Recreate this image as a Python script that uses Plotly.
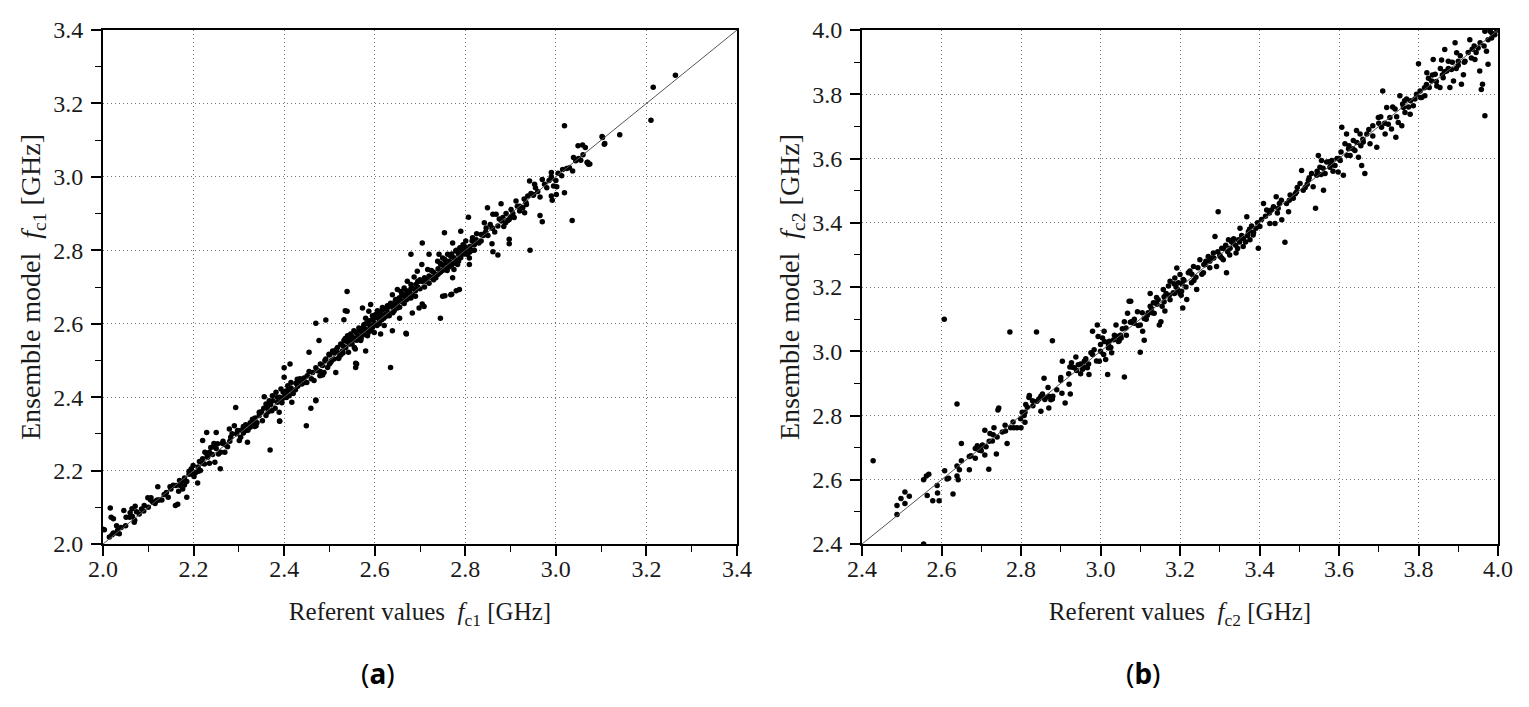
import plotly.graph_objects as go

# (a) referent f_c1 vs ensemble model f_c1, GHz
a_points = [
    (2.003, 2.039), (2.018, 2.073), (2.014, 2.019), (2.023, 2.030), (2.032, 2.037), (2.036, 2.028),
    (2.016, 2.098), (2.023, 2.069), (2.046, 2.091), (2.051, 2.073), (2.059, 2.073), (2.065, 2.075),
    (2.064, 2.096), (2.071, 2.103), (2.069, 2.059), (2.074, 2.088), (2.080, 2.082), (2.091, 2.105),
    (2.099, 2.126), (2.106, 2.126), (2.110, 2.114), (2.117, 2.117), (2.121, 2.156), (2.124, 2.120),
    (2.144, 2.127), (2.148, 2.156), (2.161, 2.159), (2.165, 2.108), (2.167, 2.144), (2.169, 2.173),
    (2.172, 2.159), (2.176, 2.150), (2.180, 2.161), (2.185, 2.127), (2.190, 2.198), (2.196, 2.191),
    (2.201, 2.184), (2.199, 2.214), (2.205, 2.195), (2.209, 2.166), (2.211, 2.198), (2.213, 2.225),
    (2.220, 2.232), (2.220, 2.282), (2.224, 2.218), (2.229, 2.304), (2.231, 2.236), (2.235, 2.250),
    (2.238, 2.263), (2.242, 2.244), (2.245, 2.274), (2.247, 2.223), (2.250, 2.304), (2.253, 2.273),
    (2.259, 2.205), (2.264, 2.274), (2.269, 2.250), (2.279, 2.313), (2.282, 2.291), (2.290, 2.322),
    (2.293, 2.372), (2.297, 2.309), (2.301, 2.282), (2.304, 2.291), (2.310, 2.302), (2.315, 2.309),
    (2.319, 2.277), (2.325, 2.318), (2.330, 2.331), (2.336, 2.343), (2.338, 2.322), (2.345, 2.359),
    (2.352, 2.336), (2.356, 2.401), (2.360, 2.381), (2.363, 2.372), (2.367, 2.390), (2.369, 2.256),
    (2.373, 2.363), (2.374, 2.404), (2.382, 2.413), (2.385, 2.386), (2.389, 2.359), (2.390, 2.334),
    (2.393, 2.422), (2.395, 2.392), (2.398, 2.413), (2.400, 2.454), (2.404, 2.417), (2.405, 2.399),
    (2.408, 2.431), (2.411, 2.404), (2.413, 2.490), (2.415, 2.440), (2.417, 2.386), (2.418, 2.417),
    (2.426, 2.438), (2.429, 2.449), (2.433, 2.443), (2.439, 2.436), (2.444, 2.452), (2.449, 2.322),
    (2.451, 2.458), (2.455, 2.522), (2.459, 2.370), (2.463, 2.467), (2.466, 2.445), (2.470, 2.601),
    (2.470, 2.392), (2.474, 2.472), (2.477, 2.554), (2.479, 2.458), (2.485, 2.486), (2.488, 2.467),
    (2.492, 2.610), (2.492, 2.504), (2.496, 2.481), (2.499, 2.517), (2.503, 2.495), (2.507, 2.526),
    (2.510, 2.504), (2.514, 2.467), (2.518, 2.535), (2.521, 2.507), (2.525, 2.545), (2.529, 2.526),
    (2.532, 2.554), (2.535, 2.635), (2.536, 2.535), (2.540, 2.567), (2.542, 2.522), (2.545, 2.545),
    (2.547, 2.572), (2.551, 2.555), (2.554, 2.581), (2.557, 2.531), (2.558, 2.492), (2.558, 2.481),
    (2.562, 2.563), (2.565, 2.588), (2.569, 2.554), (2.573, 2.576), (2.576, 2.597), (2.580, 2.526),
    (2.584, 2.567), (2.588, 2.608), (2.591, 2.590), (2.595, 2.622), (2.599, 2.576), (2.602, 2.599),
    (2.606, 2.635), (2.610, 2.613), (2.613, 2.572), (2.617, 2.644), (2.621, 2.595), (2.624, 2.626),
    (2.628, 2.649), (2.632, 2.622), (2.635, 2.481), (2.639, 2.581), (2.643, 2.635),
    (3.019, 3.139), (3.036, 2.881), (2.943, 2.800), (3.141, 3.115), (3.108, 3.091), (3.103, 3.107),
    (3.049, 3.085), (3.059, 3.087), (3.039, 3.053), (3.044, 3.044), (3.030, 3.025), (3.024, 3.023),
    (3.037, 3.016), (3.069, 3.039), (3.072, 3.034), (3.013, 3.003), (3.019, 2.957), (3.001, 2.952),
    (2.990, 2.948), (2.992, 2.936), (3.002, 2.973), (2.990, 3.012), (2.990, 2.996), (2.970, 2.993),
    (2.953, 2.980), (2.942, 2.989), (2.951, 2.952), (2.938, 2.948), (2.934, 2.930), (2.927, 2.916),
    (2.931, 2.902), (2.920, 2.907), (2.912, 2.934), (2.908, 2.889), (2.901, 2.911), (2.897, 2.884),
    (2.894, 2.881), (2.889, 2.875), (2.879, 2.927), (2.883, 2.889), (2.872, 2.866), (2.868, 2.898),
    (2.861, 2.898), (2.859, 2.861), (2.849, 2.916), (2.846, 2.861), (2.838, 2.843), (2.842, 2.875),
    (2.835, 2.843), (2.824, 2.829), (2.859, 2.818), (2.861, 2.796), (2.872, 2.787), (2.897, 2.830),
    (2.897, 2.818), (2.820, 2.820), (2.816, 2.834), (2.807, 2.890), (2.801, 2.825), (2.798, 2.811),
    (2.790, 2.852), (2.788, 2.807), (2.794, 2.793), (2.801, 2.802), (2.805, 2.789), (2.809, 2.779),
    (2.809, 2.761), (2.779, 2.798), (2.772, 2.820), (2.768, 2.784), (2.761, 2.789), (2.757, 2.770),
    (2.754, 2.848), (2.754, 2.752), (2.750, 2.779), (2.746, 2.761), (2.742, 2.789), (2.739, 2.770),
    (2.765, 2.757), (2.775, 2.748), (2.783, 2.761), (2.772, 2.725), (2.787, 2.693), (2.768, 2.679),
    (2.750, 2.675), (2.735, 2.734), (2.728, 2.725), (2.720, 2.789), (2.717, 2.748), (2.713, 2.716),
    (2.705, 2.820), (2.704, 2.761), (2.698, 2.716), (2.694, 2.743), (2.691, 2.707), (2.687, 2.727),
    (2.683, 2.679), (2.680, 2.789), (2.680, 2.707), (2.676, 2.688), (2.672, 2.716), (2.669, 2.679),
    (2.665, 2.697), (2.661, 2.661), (2.658, 2.688), (2.654, 2.670), (2.650, 2.693), (2.646, 2.666),
    (2.643, 2.643), (2.639, 2.679), (2.635, 2.656), (2.705, 2.654), (2.709, 2.647), (2.745, 2.615),
    (2.698, 2.643), (2.669, 2.574), (2.683, 2.629), (2.655, 2.615), (2.539, 2.688), (2.532, 2.611),
    (2.539, 2.634), (2.628, 2.625), (2.617, 2.638), (2.610, 2.625), (2.602, 2.625), (2.587, 2.634),
    (2.591, 2.652), (2.573, 2.643), (2.580, 2.615), (2.650, 2.643),
    (3.264, 3.277), (3.215, 3.244), (3.210, 3.154), (3.102, 3.110), (3.107, 3.089), (2.965, 2.895),
    (2.970, 2.878), (2.780, 2.690), (2.770, 2.680), (2.755, 2.676), (2.400, 2.480), (2.390, 2.335),
    (2.470, 2.390), (2.560, 2.490), (2.670, 2.572), (2.160, 2.105), (2.000, 2.040),
    (2.520, 2.520), (2.530, 2.540), (2.540, 2.550), (2.550, 2.545), (2.555, 2.560), (2.560, 2.575),
    (2.565, 2.565), (2.570, 2.580), (2.575, 2.570), (2.580, 2.585), (2.585, 2.600), (2.590, 2.595),
    (2.595, 2.610), (2.600, 2.600), (2.605, 2.620), (2.610, 2.600), (2.615, 2.625), (2.620, 2.615),
    (2.625, 2.640), (2.630, 2.630), (2.635, 2.650), (2.640, 2.645), (2.645, 2.660), (2.650, 2.655),
    (2.655, 2.670), (2.660, 2.660), (2.665, 2.675), (2.670, 2.665), (2.675, 2.685), (2.680, 2.670),
    (2.685, 2.695), (2.690, 2.690), (2.695, 2.700), (2.700, 2.695), (2.705, 2.715), (2.710, 2.700),
    (2.715, 2.720), (2.720, 2.730), (2.725, 2.725), (2.730, 2.740), (2.735, 2.725), (2.740, 2.750),
    (2.745, 2.740), (2.750, 2.760), (2.755, 2.750), (2.760, 2.765), (2.765, 2.770), (2.770, 2.760),
    (2.775, 2.780), (2.780, 2.775), (2.785, 2.790), (2.790, 2.800), (2.795, 2.790), (2.800, 2.805),
    (2.805, 2.800), (2.810, 2.810), (2.815, 2.800), (2.820, 2.815), (2.830, 2.820), (2.840, 2.840),
    (2.850, 2.840), (2.860, 2.860), (2.880, 2.880), (2.890, 2.900), (2.900, 2.890), (2.920, 2.920),
    (2.930, 2.940), (2.950, 2.950), (2.960, 2.960), (2.980, 2.970), (2.990, 3.000), (3.000, 2.990),
    (3.050, 3.050), (3.060, 3.060), (3.070, 3.040), (3.075, 3.035),
    (2.470, 2.480), (2.480, 2.470), (2.490, 2.500), (2.500, 2.490), (2.510, 2.520), (2.450, 2.440),
    (2.440, 2.440), (2.430, 2.430), (2.420, 2.410), (2.410, 2.420), (2.400, 2.400), (2.390, 2.400),
    (2.380, 2.370), (2.370, 2.380), (2.360, 2.350), (2.350, 2.360), (2.340, 2.330), (2.330, 2.340),
    (2.320, 2.310), (2.310, 2.320), (2.280, 2.280), (2.270, 2.270), (2.260, 2.250), (2.250, 2.260),
    (2.230, 2.240), (2.220, 2.220), (2.210, 2.210), (2.190, 2.190), (2.180, 2.180), (2.170, 2.160),
    (2.150, 2.150), (2.140, 2.140), (2.130, 2.120), (2.120, 2.120), (2.100, 2.100), (2.090, 2.090),
    (2.070, 2.065), (2.050, 2.050), (2.040, 2.045), (2.030, 2.030), (2.020, 2.025),
    (2.455, 2.470), (2.460, 2.450), (2.480, 2.490), (2.485, 2.460), (2.500, 2.515), (2.505, 2.500),
    (2.515, 2.530), (2.520, 2.505), (2.525, 2.515), (2.530, 2.520), (2.535, 2.560), (2.545, 2.555),
    (2.550, 2.565), (2.555, 2.535), (2.560, 2.555), (2.565, 2.580), (2.570, 2.560), (2.575, 2.590),
    (2.580, 2.600), (2.585, 2.575), (2.590, 2.580), (2.595, 2.590), (2.600, 2.615), (2.605, 2.595),
    (2.610, 2.630), (2.615, 2.610), (2.620, 2.640), (2.625, 2.620), (2.630, 2.645), (2.640, 2.630),
    (2.645, 2.650), (2.650, 2.665), (2.655, 2.645), (2.660, 2.680), (2.665, 2.655), (2.670, 2.690),
    (2.675, 2.670), (2.680, 2.695), (2.690, 2.675), (2.695, 2.715), (2.700, 2.720), (2.710, 2.725),
    (2.720, 2.710), (2.725, 2.745), (2.730, 2.720), (2.740, 2.735), (2.745, 2.765), (2.750, 2.745),
    (2.755, 2.775), (2.760, 2.745), (2.765, 2.755), (2.770, 2.790), (2.775, 2.765), (2.780, 2.800),
    (2.785, 2.770), (2.790, 2.780), (2.795, 2.815), (2.800, 2.790), (2.810, 2.795), (2.815, 2.825),
    (2.820, 2.800), (2.825, 2.845), (2.835, 2.825), (2.845, 2.850), (2.855, 2.870), (2.865, 2.850),
    (2.875, 2.885), (2.885, 2.865), (2.905, 2.900), (2.915, 2.920), (2.935, 2.925), (2.945, 2.955),
    (2.955, 2.970), (2.965, 2.945), (2.975, 2.980), (2.985, 2.990), (2.995, 2.975), (3.005, 3.010),
    (3.015, 3.020), (3.055, 3.045), (3.065, 3.080),
    (2.030, 2.050), (2.060, 2.085), (2.085, 2.095), (2.105, 2.120), (2.115, 2.110), (2.135, 2.135),
    (2.155, 2.160), (2.175, 2.170), (2.185, 2.170), (2.195, 2.205), (2.215, 2.200), (2.225, 2.250),
    (2.235, 2.220), (2.245, 2.265), (2.255, 2.245), (2.265, 2.280), (2.275, 2.265), (2.285, 2.300),
    (2.295, 2.300), (2.305, 2.310), (2.315, 2.325), (2.325, 2.330), (2.335, 2.320), (2.345, 2.350),
    (2.355, 2.370), (2.365, 2.360), (2.375, 2.390), (2.385, 2.400), (2.395, 2.385), (2.405, 2.410),
    (2.415, 2.425), (2.425, 2.420), (2.435, 2.450), (2.445, 2.440),
]

# (b) referent f_c2 vs ensemble model f_c2, GHz
b_points = [
    (2.428, 2.659), (2.488, 2.492), (2.488, 2.520), (2.498, 2.542), (2.508, 2.562), (2.508, 2.526),
    (2.519, 2.549), (2.555, 2.600), (2.562, 2.612), (2.568, 2.617), (2.564, 2.551), (2.578, 2.535),
    (2.589, 2.582), (2.590, 2.559), (2.594, 2.535), (2.607, 3.100), (2.608, 2.628), (2.614, 2.602),
    (2.618, 2.605), (2.629, 2.556), (2.639, 2.836), (2.639, 2.643), (2.639, 2.612), (2.642, 2.600),
    (2.645, 2.631), (2.650, 2.713), (2.650, 2.659), (2.670, 2.631), (2.670, 2.672), (2.674, 2.675),
    (2.685, 2.667), (2.685, 2.697), (2.690, 2.706), (2.695, 2.692), (2.698, 2.697), (2.703, 2.708),
    (2.709, 2.677), (2.712, 2.703), (2.709, 2.754), (2.719, 2.633), (2.722, 2.744), (2.728, 2.721),
    (2.732, 2.762), (2.738, 2.680), (2.740, 2.733), (2.742, 2.817), (2.744, 2.823), (2.753, 2.749),
    (2.761, 2.752), (2.765, 2.713), (2.772, 3.060), (2.774, 2.762), (2.782, 2.762), (2.790, 2.762),
    (2.800, 2.762), (2.799, 2.790), (2.803, 2.810), (2.808, 2.800), (2.810, 2.779), (2.812, 2.834),
    (2.816, 2.826), (2.820, 2.856), (2.821, 2.862), (2.829, 2.846), (2.839, 3.060), (2.840, 2.844),
    (2.845, 2.851), (2.850, 2.813), (2.854, 2.867), (2.858, 2.856), (2.858, 2.916), (2.862, 2.856),
    (2.868, 2.887), (2.870, 2.823), (2.875, 2.849), (2.879, 3.033), (2.879, 2.851), (2.900, 2.918),
    (2.903, 2.869), (2.904, 2.969), (2.911, 2.839), (2.921, 2.897), (2.924, 2.867), (2.923, 2.951),
    (2.927, 2.964), (2.934, 2.949), (2.938, 2.982), (2.944, 2.958), (2.950, 2.930), (2.955, 2.944),
    (2.959, 2.967), (2.963, 2.977), (2.967, 2.949), (2.971, 2.928), (2.976, 2.995), (2.980, 3.062),
    (2.984, 3.005), (2.992, 3.082), (2.994, 3.046), (2.997, 2.969), (3.000, 3.021), (3.005, 3.041),
    (3.008, 2.990), (3.009, 3.062), (3.013, 2.974), (3.018, 2.928), (3.022, 3.031), (3.026, 3.012),
    (3.028, 2.995), (3.033, 3.036), (3.039, 3.082), (3.043, 3.046), (3.047, 3.033), (3.052, 3.041),
    (3.060, 2.920), (3.060, 3.092), (3.064, 3.072), (3.068, 3.118), (3.072, 3.156), (3.076, 3.156),
    (3.078, 3.092), (3.085, 3.087), (3.093, 3.123), (3.100, 2.997), (3.100, 3.082), (3.106, 3.062),
    (3.110, 3.034), (3.110, 3.102), (3.118, 3.112), (3.125, 3.180), (3.128, 3.133), (3.135, 3.118),
    (3.142, 3.146), (3.148, 3.082), (3.152, 3.092), (3.160, 3.154), (3.173, 3.174), (3.186, 3.180),
    (3.203, 3.174), (3.207, 3.135),
    (3.133, 3.151), (3.141, 3.167), (3.158, 3.192), (3.162, 3.125), (3.171, 3.203), (3.175, 3.218),
    (3.183, 3.182), (3.187, 3.228), (3.192, 3.259), (3.196, 3.213), (3.200, 3.239), (3.204, 3.187),
    (3.208, 3.223), (3.217, 3.161), (3.221, 3.244), (3.229, 3.213), (3.234, 3.264), (3.242, 3.192),
    (3.250, 3.285), (3.259, 3.244), (3.263, 3.269), (3.271, 3.295), (3.275, 3.280), (3.284, 3.306),
    (3.288, 3.357), (3.296, 3.434), (3.292, 3.264), (3.301, 3.295), (3.305, 3.321), (3.309, 3.285),
    (3.317, 3.244), (3.322, 3.347), (3.326, 3.321), (3.334, 3.337), (3.341, 3.306), (3.347, 3.347),
    (3.351, 3.383), (3.359, 3.326), (3.368, 3.419), (3.372, 3.372), (3.376, 3.347), (3.384, 3.362),
    (3.391, 3.383), (3.397, 3.321), (3.401, 3.388), (3.410, 3.460), (3.418, 3.440), (3.426, 3.398),
    (3.439, 3.398), (3.442, 3.481), (3.447, 3.445), (3.456, 3.409), (3.464, 3.339), (3.468, 3.460),
    (3.473, 3.434), (3.477, 3.486), (3.485, 3.476), (3.493, 3.496), (3.502, 3.522), (3.506, 3.563),
    (3.510, 3.501), (3.523, 3.532), (3.531, 3.553), (3.535, 3.512), (3.541, 3.445), (3.544, 3.548),
    (3.548, 3.609), (3.552, 3.573), (3.556, 3.594), (3.561, 3.501), (3.565, 3.553), (3.569, 3.589),
    (3.577, 3.573), (3.582, 3.594), (3.590, 3.578), (3.598, 3.558), (3.603, 3.594), (3.607, 3.697),
    (3.611, 3.548), (3.615, 3.646), (3.619, 3.676), (3.624, 3.630), (3.628, 3.609), (3.636, 3.656),
    (3.640, 3.625), (3.644, 3.687), (3.649, 3.604), (3.653, 3.676), (3.657, 3.578), (3.661, 3.651),
    (3.665, 3.553), (3.670, 3.676), (3.678, 3.646), (3.685, 3.702), (3.695, 3.635), (3.699, 3.728),
    (3.707, 3.697), (3.710, 3.810), (3.716, 3.676), (3.720, 3.759), (3.724, 3.707), (3.728, 3.728),
    (3.732, 3.692), (3.741, 3.754), (3.743, 3.666), (3.749, 3.712), (3.753, 3.795), (3.758, 3.702),
    (3.762, 3.759), (3.766, 3.743), (3.770, 3.785), (3.779, 3.738), (3.787, 3.764), (3.791, 3.785),
    (3.800, 3.895), (3.804, 3.810), (3.808, 3.790), (3.816, 3.795), (3.821, 3.867), (3.827, 3.821),
    (3.833, 3.841), (3.837, 3.908), (3.842, 3.862), (3.846, 3.826), (3.854, 3.821), (3.858, 3.907),
    (3.862, 3.851), (3.866, 3.939), (3.871, 3.872), (3.875, 3.903), (3.879, 3.821), (3.883, 3.877),
    (3.888, 3.841), (3.892, 3.960), (3.896, 3.929), (3.900, 3.903), (3.908, 3.831), (3.913, 3.861),
    (3.917, 3.903), (3.929, 3.970), (3.933, 3.913), (3.942, 3.908), (3.950, 3.944), (3.954, 3.872),
    (3.958, 3.815), (3.961, 3.831), (3.967, 3.733), (3.971, 3.934), (3.975, 3.893), (3.967, 3.996),
    (3.980, 3.996), (3.984, 3.975), (3.992, 3.985), (3.997, 4.000), (2.555, 2.400),
    (3.190, 3.200), (3.200, 3.180), (3.210, 3.220), (3.230, 3.240), (3.240, 3.230), (3.260, 3.270),
    (3.280, 3.290), (3.300, 3.300), (3.310, 3.320), (3.320, 3.310), (3.330, 3.340), (3.340, 3.330),
    (3.350, 3.340), (3.360, 3.350), (3.370, 3.360), (3.380, 3.390), (3.430, 3.440), (3.450, 3.460),
    (3.490, 3.490), (3.520, 3.520), (3.560, 3.570), (3.580, 3.580), (3.600, 3.600), (3.620, 3.610),
    (3.660, 3.660), (3.700, 3.710), (3.760, 3.770), (3.780, 3.780), (3.820, 3.830), (3.860, 3.860),
    (3.900, 3.890), (3.940, 3.950), (3.050, 3.050), (3.080, 3.090), (3.120, 3.120), (3.140, 3.150),
    (3.160, 3.170), (3.020, 3.020), (2.960, 2.950), (2.940, 2.940), (2.880, 2.860), (2.860, 2.850),
    (2.980, 2.990), (2.990, 2.970), (3.000, 3.000), (3.010, 3.030), (3.020, 3.010), (3.035, 3.050),
    (3.045, 3.030), (3.055, 3.070), (3.065, 3.050), (3.075, 3.090), (3.085, 3.100), (3.095, 3.080),
    (3.105, 3.120), (3.115, 3.100), (3.125, 3.140), (3.130, 3.120), (3.145, 3.160), (3.155, 3.140),
    (3.165, 3.180), (3.175, 3.160), (3.185, 3.210), (3.195, 3.190), (3.205, 3.210), (3.215, 3.200),
    (3.225, 3.250), (3.235, 3.220), (3.245, 3.260), (3.255, 3.240), (3.265, 3.280), (3.275, 3.260),
    (3.285, 3.290), (3.295, 3.310), (3.305, 3.290), (3.315, 3.330), (3.325, 3.300), (3.335, 3.350),
    (3.345, 3.320), (3.355, 3.360), (3.365, 3.340), (3.375, 3.380), (3.385, 3.370), (3.395, 3.400),
    (3.405, 3.410), (3.415, 3.420), (3.425, 3.430), (3.435, 3.450), (3.445, 3.430), (3.455, 3.470),
    (3.475, 3.470), (3.495, 3.510), (3.515, 3.510), (3.525, 3.540), (3.545, 3.560), (3.555, 3.550),
    (3.575, 3.590), (3.585, 3.560), (3.595, 3.600), (3.605, 3.620), (3.625, 3.640), (3.635, 3.630),
    (3.645, 3.650), (3.655, 3.640), (3.675, 3.690), (3.685, 3.670), (3.705, 3.730), (3.715, 3.710),
    (3.735, 3.760), (3.745, 3.730), (3.765, 3.780), (3.775, 3.760), (3.795, 3.800), (3.805, 3.790),
    (3.815, 3.820), (3.825, 3.850), (3.835, 3.860), (3.845, 3.840), (3.855, 3.880), (3.865, 3.870),
    (3.875, 3.880), (3.885, 3.900), (3.895, 3.880), (3.905, 3.920), (3.915, 3.900), (3.925, 3.930),
    (3.935, 3.940), (3.945, 3.930), (3.955, 3.960), (3.965, 3.950), (3.975, 3.970), (3.985, 3.990),
    (2.700, 2.690), (2.720, 2.720), (2.730, 2.740), (2.760, 2.770), (2.780, 2.780), (2.810, 2.810),
    (2.830, 2.830), (2.850, 2.860), (2.870, 2.860), (2.890, 2.880), (2.900, 2.910), (2.920, 2.930),
    (2.930, 2.950), (2.950, 2.960), (2.960, 2.970), (2.970, 2.960),
]

ranges = {"a": (2.0, 3.4), "b": (2.4, 4.0)}
serif = "Liberation Serif"
text_color = "#1a1a1a"

fig = go.Figure()
for key, pts, xa, ya in [("a", a_points, "x", "y"), ("b", b_points, "x2", "y2")]:
    lo, hi = ranges[key]
    fig.add_trace(go.Scatter(x=[p[0] for p in pts], y=[p[1] for p in pts], mode="markers",
                             marker=dict(color="black", size=5.5), xaxis=xa, yaxis=ya,
                             showlegend=False, hoverinfo="skip"))
    # y = x reference line
    fig.add_trace(go.Scatter(x=[lo, hi], y=[lo, hi], mode="lines",
                             line=dict(color="#555", width=1), xaxis=xa, yaxis=ya,
                             showlegend=False, hoverinfo="skip"))

def axis_style(lo, hi, title, domain, anchor, standoff, title_size, label_shift):
    return dict(range=[lo, hi], domain=domain, anchor=anchor, dtick=0.2, tickformat=".1f",
                showline=True, linecolor="black", linewidth=2, mirror=True,
                ticks="outside", ticklen=10, tickwidth=1.5, tickcolor="black",
                minor=dict(dtick=0.1, ticks="outside", ticklen=6, tickwidth=1.2, tickcolor="black"),
                showgrid=True, gridcolor="#777", griddash="1px,3px", gridwidth=1,
                zeroline=False, automargin=False, ticklabelstandoff=label_shift,
                tickfont=dict(family=serif, size=24, color=text_color),
                title=dict(text=title, standoff=standoff,
                           font=dict(family=serif, size=title_size, color=text_color)))

# the page body adds an 8 px offset, so the figure is 8 px smaller each way
W, H = 1521, 699
ml, mr, mt, mb = 95, 31, 22, 163
inner_w = W - ml - mr
inner_h = H - mt - mb
xa_dom = [0, 634 / inner_w]
xb_dom = [759 / inner_w, 1]

fig.update_layout(
    width=W, height=H, margin=dict(l=ml, r=mr, t=mt, b=mb),
    plot_bgcolor="white", paper_bgcolor="white",
    xaxis=axis_style(2.0, 3.4, "Referent values  <i>f</i><sub>c1</sub> [GHz]", xa_dom, "y", 22, 25, -8),
    yaxis=axis_style(2.0, 3.4, "Ensemble model  <i>f</i><sub>c1</sub> [GHz]", [0, 1], "x", 4, 28, 3),
    xaxis2=axis_style(2.4, 4.0, "Referent values  <i>f</i><sub>c2</sub> [GHz]", xb_dom, "y2", 22, 25, -8),
    yaxis2=axis_style(2.4, 4.0, "Ensemble model  <i>f</i><sub>c2</sub> [GHz]", [0, 1], "x2", 4, 28, 3),
    annotations=[
        dict(text="(<b>a</b>)", x=275 / inner_w, y=-129 / inner_h, xref="paper", yref="paper",
             xanchor="center", yanchor="middle", showarrow=False,
             font=dict(family="Noto Sans", size=28, color="black")),
        dict(text="(<b>b</b>)", x=1040 / inner_w, y=-129 / inner_h, xref="paper", yref="paper",
             xanchor="center", yanchor="middle", showarrow=False,
             font=dict(family="Noto Sans", size=28, color="black")),
    ],
)

fig.write_html("out.html")
